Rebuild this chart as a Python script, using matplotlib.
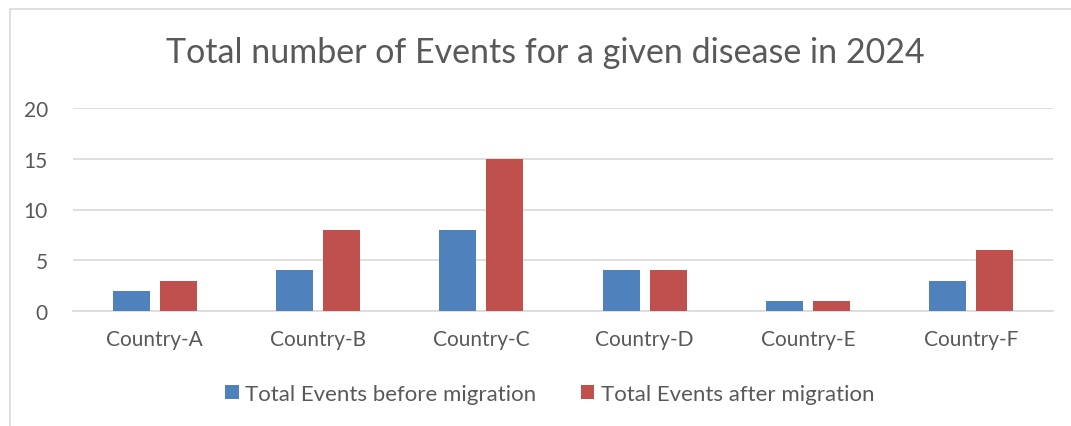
import numpy as np
import matplotlib.pyplot as plt
from matplotlib.patches import Rectangle

countries = ["Country-A", "Country-B", "Country-C", "Country-D", "Country-E", "Country-F"]
before = [2, 4, 8, 4, 1, 3]
after = [3, 8, 15, 4, 1, 6]
series_names = ["Total Events before migration", "Total Events after migration"]

plt.rcParams['font.family'] = ['Lato', 'DejaVu Sans']
txt = "#595959"

fig = plt.figure(figsize=(10.71, 4.27), dpi=100)
W, H = 1071, 427

# chart border (only left/top visible in the crop)
fig.patches.append(Rectangle((10 / W, -0.1), 1.2, 1 - 10 / H + 0.1, transform=fig.transFigure,
                             fill=False, edgecolor="#d9d9d9", linewidth=1.2))

ax = fig.add_axes([73 / W, 1 - 312 / H, (1053 - 73) / W, (312 - 109) / H])
x = np.arange(len(countries))
w = 0.227
gap = 0.06
ax.bar(x - (w + gap) / 2, before, w, color="#4f81bd", label=series_names[0], zorder=3)
ax.bar(x + (w + gap) / 2, after, w, color="#c0504d", label=series_names[1], zorder=3)

ax.set_xlim(-0.5, len(countries) - 0.5)
ax.set_ylim(0, 20)
ax.set_yticks([0, 5, 10, 15, 20])
ax.set_xticks(x)
ax.set_xticklabels(countries)
ax.grid(axis="y", color="#d9d9d9", linewidth=1.2, zorder=0)
for s in ["top", "right", "left"]:
    ax.spines[s].set_visible(False)
ax.spines["bottom"].set_color("#d9d9d9")
ax.spines["bottom"].set_linewidth(1.2)
ax.tick_params(length=0, colors=txt, labelsize=15)
ax.tick_params(axis="x", pad=13)
ax.tick_params(axis="y", pad=18)

fig.text(545 / W, 1 - 53 / H, "Total number of Events for a given disease in 2024",
         ha="center", va="center", fontsize=24.5, color=txt)

fig.legend(loc="center", bbox_to_anchor=(550 / W, 1 - 395 / H), ncol=2, frameon=False,
           fontsize=16, labelcolor=txt, handlelength=0.6, handleheight=0.6,
           handletextpad=0.3, columnspacing=2.0)

fig.savefig("out.png", dpi=100)
